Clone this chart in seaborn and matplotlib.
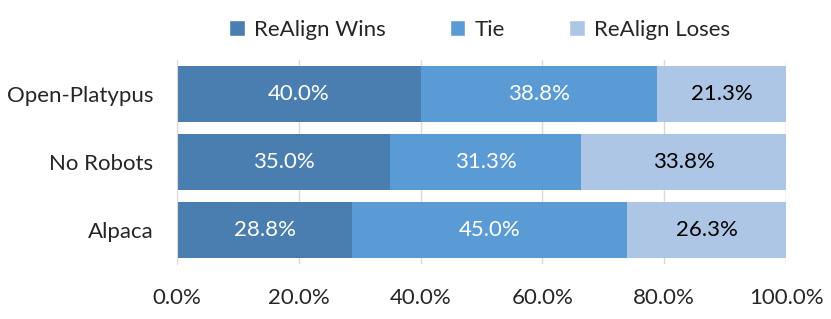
import pandas as pd
import matplotlib.pyplot as plt
import seaborn as sns
from matplotlib.patches import Patch
from matplotlib.ticker import FixedLocator

datasets = ['Open-Platypus', 'No Robots', 'Alpaca']
wins = [40.0, 35.0, 28.8]
ties = [38.8, 31.3, 45.0]
loses = [21.3, 33.8, 26.3]
series_names = ['ReAlign Wins', 'Tie', 'ReAlign Loses']
colors = ['#4A7EB0', '#5B9BD5', '#ADC6E5']
xticks = [0, 20, 40, 60, 80, 100]

sns.set_style('white')
plt.rcParams['font.family'] = ['Lato', 'DejaVu Sans']

df = pd.DataFrame({'Dataset': datasets, 'Wins': wins, 'Tie': ties, 'Loses': loses})
df['cum_tie'] = df['Wins'] + df['Tie']
df['cum_all'] = df['cum_tie'] + df['Loses']

fig = plt.figure(figsize=(8.31, 3.19), dpi=100)
ax = fig.add_axes([0.213, 0.172, 0.733, 0.640])

# stacked bars drawn as overlapping cumulative totals
for col, c in zip(['cum_all', 'cum_tie', 'Wins'], colors[::-1]):
    sns.barplot(data=df, x=col, y='Dataset', orient='h', color=c, width=0.82,
                saturation=1, ax=ax, zorder=2, edgecolor='none', linewidth=0)

for i, row in df.iterrows():
    starts = [0, row['Wins'], row['cum_tie']]
    vals = [row['Wins'], row['Tie'], row['Loses']]
    for j, (s, v) in enumerate(zip(starts, vals)):
        ax.text(s + v / 2, i, f'{v:.1f}%', ha='center', va='center', fontsize=16,
                color='white' if j < 2 else 'black', zorder=3)

ax.set_xlim(0, 100)
ax.set_ylim(2.5, -0.5)
ax.set_xticks(xticks)
ax.set_xticklabels([f'{t:.1f}%' for t in xticks], fontsize=16)
ax.tick_params(axis='x', length=0, pad=17)
ax.tick_params(axis='y', length=0, labelsize=16, pad=17)
ax.yaxis.set_minor_locator(FixedLocator([-0.5, 0.5, 1.5, 2.5]))
ax.tick_params(axis='y', which='minor', length=5, color='#D9D9D9', width=1)
ax.set_xlabel('')
ax.set_ylabel('')
ax.grid(axis='x', color='#D9D9D9', linewidth=1, zorder=0)
ax.set_axisbelow(True)
for s in ['top', 'right', 'bottom']:
    ax.spines[s].set_visible(False)
ax.spines['left'].set_color('#D9D9D9')

handles = [Patch(facecolor=c, label=n) for c, n in zip(colors, series_names)]
fig.legend(handles=handles, loc='upper center', bbox_to_anchor=(0.577, 1.0), ncol=3,
           frameon=False, fontsize=16, handlelength=0.7, handleheight=0.7,
           handletextpad=0.4, columnspacing=2.9)

fig.savefig('out.png', dpi=100)
plt.close()
